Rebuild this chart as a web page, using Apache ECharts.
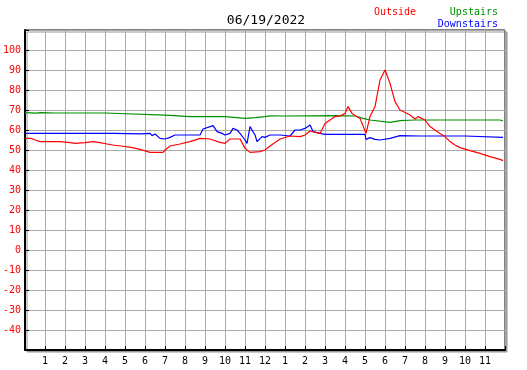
<!DOCTYPE html>
<html>
<head>
<meta charset="utf-8">
<script src="https://cdn.jsdelivr.net/npm/echarts@6/dist/echarts.min.js"></script>
<style>
  html, body { margin: 0; padding: 0; background: #fff; }
  #chart { width: 527px; height: 370px; }
</style>
</head>
<body>
<div id="chart"></div>
<script>
// hours since midnight, temperatures
const outsideHours = [0, 0.3, 0.5, 0.75, 1.75, 2.25, 2.5, 3, 3.4, 3.75, 4.1, 4.4, 4.8, 5.3, 5.75, 6.25, 6.9, 7, 7.25, 7.75, 8.25, 8.75, 9.25, 9.75, 10, 10.25, 10.75, 11, 11.25, 11.75, 12, 12.25, 12.75, 13.25, 13.75, 14, 14.25, 14.75, 15, 15.5, 15.75, 16, 16.15, 16.35, 16.75, 17.05, 17.25, 17.5, 17.75, 18, 18.25, 18.5, 18.75, 19.25, 19.5, 19.65, 20, 20.25, 20.5, 20.75, 21, 21.25, 21.5, 21.75, 22.25, 22.75, 23.25, 23.75, 23.9];
const outsideTemps = [55.8, 55.8, 55, 54.2, 54.2, 53.7, 53.3, 53.7, 54.2, 53.7, 53, 52.5, 52, 51.3, 50.3, 48.8, 48.8, 50, 52, 53, 54.2, 55.8, 55.5, 53.8, 53.3, 55.5, 55.5, 50.8, 48.8, 49.2, 50, 52, 55.5, 57, 56.7, 57.5, 59.5, 58.3, 63.3, 66.7, 67, 68.3, 71.7, 68.3, 65.8, 58.3, 66.7, 71.7, 85, 90, 83.3, 74.2, 70, 67.5, 65.5, 66.7, 65, 61.7, 60, 58.3, 56.7, 54.2, 52.5, 51.2, 49.7, 48.3, 46.7, 45.3, 44.7];

const upstairsHours = [0, 0.5, 0.8, 1.5, 4, 4.1, 7, 8.25, 10, 11, 11.5, 12, 12.25, 13, 15.5, 16.5, 16.9, 17.25, 18.25, 18.75, 19.5, 20.5, 23.75, 23.9];
const upstairsTemps = [68.7, 68.4, 68.7, 68.5, 68.5, 67.8, 67.4, 66.7, 66.7, 65.8, 66.2, 66.7, 67.1, 67, 67.2, 67, 65.8, 65, 63.8, 64.7, 65, 65, 65, 64.5];

const downstairsHours = [0, 4.5, 4.55, 4.6, 5.75, 6.25, 6.35, 6.5, 6.75, 7, 7.25, 7.5, 8.75, 8.9, 9.25, 9.4, 9.6, 9.85, 10, 10.25, 10.4, 10.6, 10.75, 11, 11.1, 11.25, 11.5, 11.6, 11.85, 12, 12.1, 12.25, 12.75, 13.25, 13.5, 13.75, 14, 14.25, 14.4, 14.75, 15, 17, 17.05, 17.25, 17.5, 17.75, 18.25, 18.75, 19.75, 22, 22.1, 23.9];
const downstairsTemps = [58.3, 58.3, 58, 58.3, 58.1, 58.3, 57.2, 58, 55.8, 55.5, 56.3, 57.5, 57.5, 60.5, 61.7, 62.2, 59.2, 58.3, 57.5, 58.3, 60.8, 60, 58.3, 55, 53.3, 61.7, 57.5, 54.2, 56.7, 56.3, 57.2, 57.5, 57.5, 57, 60, 60, 60.8, 62.5, 59.2, 58.3, 57.8, 57.8, 55.3, 56.2, 55.3, 55, 55.8, 57.2, 57, 57, 56.3, 56.3];

const yLabels = [-40, -30, -20, -10, 0, 10, 20, 30, 40, 50, 60, 70, 80, 90, 100];

const mono = 'DejaVu Sans Mono';

function pairs(xs, ys) {
  return xs.map((x, i) => [x, ys[i]]);
}

const chart = echarts.init(document.getElementById('chart'), null, { renderer: 'canvas' });

const option = {
  animation: false,
  backgroundColor: '#fff',
  title: [
    { text: '06/19/2022', left: 261, top: 9, textAlign: 'center',
      textStyle: { fontFamily: mono, fontSize: 13, fontWeight: 'normal', color: '#000' } },
    { text: 'Outside', left: 390, top: 2, textAlign: 'center',
      textStyle: { fontFamily: mono, fontSize: 10, fontWeight: 'normal', color: '#ff0000' } },
    { text: 'Upstairs', right: 24, top: 2,
      textStyle: { fontFamily: mono, fontSize: 10, fontWeight: 'normal', color: '#009000' } },
    { text: 'Downstairs', right: 24, top: 14,
      textStyle: { fontFamily: mono, fontSize: 10, fontWeight: 'normal', color: '#0000ff' } }
  ],
  grid: {
    left: 25, top: 30, width: 480, height: 320,
    show: true, backgroundColor: '#fff',
    borderColor: '#000', borderWidth: 1,
    shadowColor: '#999', shadowOffsetX: 2, shadowOffsetY: 2, shadowBlur: 0
  },
  xAxis: {
    type: 'value', min: 0, max: 24, interval: 1,
    axisLine: { show: true, onZero: false, lineStyle: { color: '#000', width: 2 } },
    axisTick: { show: true, inside: true, length: 4, lineStyle: { color: '#000' } },
    splitLine: { show: true, lineStyle: { color: '#aaa', width: 1 } },
    axisLabel: {
      margin: 6, fontFamily: mono, fontSize: 10, color: '#000',
      formatter: v => (v <= 0 || v >= 24) ? '' : String((v - 1) % 12 + 1)
    }
  },
  yAxis: {
    type: 'value', min: -50, max: 110, interval: 10,
    axisLine: { show: true, onZero: false, lineStyle: { color: '#000', width: 2 } },
    axisTick: { show: true, inside: true, length: 4, lineStyle: { color: '#000' } },
    splitLine: { show: true, lineStyle: { color: '#aaa', width: 1 } },
    axisLabel: {
      margin: 4, fontFamily: mono, fontSize: 10, color: '#ff0000',
      formatter: v => yLabels.indexOf(v) >= 0 ? String(v) : ''
    }
  },
  series: [
    { name: 'Upstairs', type: 'line', data: pairs(upstairsHours, upstairsTemps),
      showSymbol: false, lineStyle: { color: '#009000', width: 1.2 }, itemStyle: { color: '#009000' } },
    { name: 'Downstairs', type: 'line', data: pairs(downstairsHours, downstairsTemps),
      showSymbol: false, lineStyle: { color: '#0000ff', width: 1.2 }, itemStyle: { color: '#0000ff' } },
    { name: 'Outside', type: 'line', data: pairs(outsideHours, outsideTemps),
      showSymbol: false, lineStyle: { color: '#ff0000', width: 1.2 }, itemStyle: { color: '#ff0000' } }
  ]
};

chart.setOption(option);
</script>
</body>
</html>
